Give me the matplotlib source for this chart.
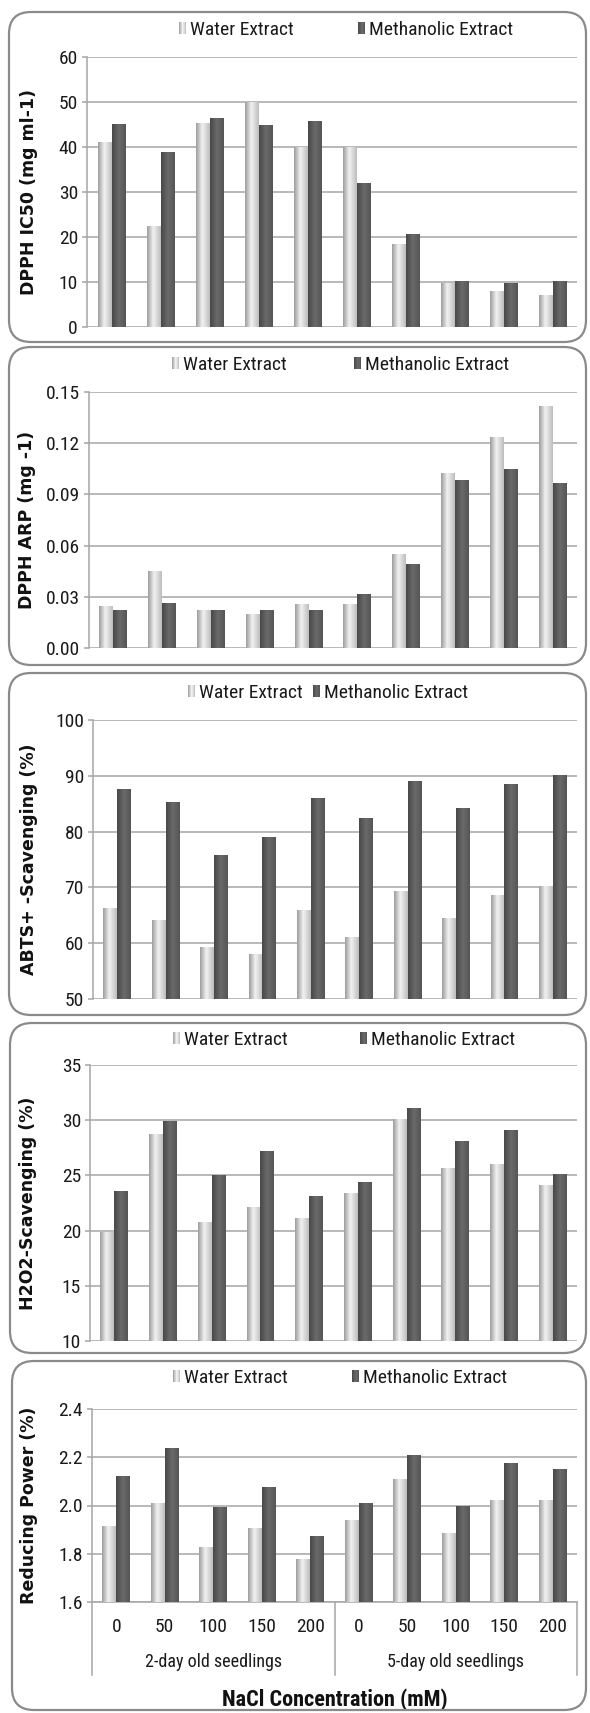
import numpy as np
import matplotlib
matplotlib.use("Agg")
import matplotlib.pyplot as plt
from matplotlib import font_manager
from matplotlib.font_manager import FontProperties
from matplotlib.patches import Rectangle, FancyBboxPatch
from matplotlib.legend_handler import HandlerBase
from matplotlib.colors import LinearSegmentedColormap

# ---------------- data ----------------
nacl_levels = ["0", "50", "100", "150", "200", "0", "50", "100", "150", "200"]
seedling_groups = ["2-day old seedlings", "5-day old seedlings"]
series_names = ["Water Extract", "Methanolic Extract"]

ic50_water = [41.0, 22.3, 45.3, 50.0, 39.9, 39.9, 18.3, 9.6, 8.0, 7.1]
ic50_meth = [45.1, 38.8, 46.3, 44.7, 45.7, 31.9, 20.5, 10.2, 9.6, 10.2]

arp_water = [0.0245, 0.045, 0.022, 0.0197, 0.0252, 0.0252, 0.055, 0.102, 0.1235, 0.1415]
arp_meth = [0.022, 0.026, 0.022, 0.022, 0.022, 0.0316, 0.049, 0.098, 0.1045, 0.0965]

abts_water = [66.2, 64.0, 59.3, 58.0, 65.8, 61.1, 69.2, 64.5, 68.6, 70.1]
abts_meth = [87.5, 85.2, 75.7, 79.0, 85.9, 82.3, 89.0, 84.1, 88.5, 90.0]

h2o2_water = [19.85, 28.7, 20.7, 22.1, 21.1, 23.4, 30.05, 25.6, 26.0, 24.1]
h2o2_meth = [23.5, 29.85, 25.0, 27.2, 23.1, 24.4, 31.1, 28.1, 29.1, 25.1]

rp_water = [1.911, 2.01, 1.827, 1.906, 1.777, 1.936, 2.107, 1.885, 2.022, 2.022]
rp_meth = [2.12, 2.235, 1.992, 2.076, 1.871, 2.01, 2.209, 1.997, 2.176, 2.151]

# ---------------- fonts ----------------
# prefer a narrow sans for the chart text
def _rank(name):
    for i, key in enumerate(("Liberation Sans Narrow", "Roboto Condensed",
                             "Open Sans Condensed", "Noto Sans", "Lato",
                             "Inter")):
        if key in name:
            return i
    return 50 if "DejaVu" in name else 20


def _find_narrow(bold):
    best = None
    for f in font_manager.fontManager.ttflist:
        narrow = ("Narrow" in f.name or "Condensed" in f.name
                  or str(f.stretch) in ("condensed", "semi-condensed",
                                        "extra-condensed"))
        if not narrow or f.style != "normal":
            continue
        wt = f.weight if isinstance(f.weight, int) else (
            700 if f.weight == "bold" else 400)
        if bold and wt < 600:
            continue
        if not bold and wt not in (400, "normal", "regular"):
            continue
        score = _rank(f.name)
        if best is None or score < best[0]:
            best = (score, f.fname, f.name)
    return best


_reg = _find_narrow(False)
_bold = _find_narrow(True)
_is_dejavu = (_reg is None) or ("DejaVu" in _reg[2])
BASE = 13.0 if _is_dejavu else 14.0


def font(size, bold=False):
    entry = _bold if bold else _reg
    if entry:
        return FontProperties(fname=entry[1], size=size)
    return FontProperties(family="Liberation Sans", size=size,
                          weight="bold" if bold else "normal")


W_PX, H_PX, DPI = 590, 1713, 100
fig = plt.figure(figsize=(W_PX / DPI, H_PX / DPI), dpi=DPI)
fig.patch.set_facecolor("white")

GRID = "#a6a6a6"
TXT = "#1a1a1a"
water_cmap = LinearSegmentedColormap.from_list(
    "water", [(0.0, "#9c9c9c"), (0.45, "#f2f2f2"), (1.0, "#bdbdbd")])
meth_cmap = LinearSegmentedColormap.from_list(
    "meth", [(0.0, "#484848"), (0.5, "#6a6a6a"), (1.0, "#555555")])
grad = np.linspace(0, 1, 64)


class GradientHandler(HandlerBase):
    def __init__(self, cmap):
        super().__init__()
        self.cmap = cmap

    def create_artists(self, legend, orig_handle, xdescent, ydescent,
                       width, height, fontsize, trans):
        n = 8
        arts = []
        for i in range(n):
            r = Rectangle((-xdescent + width * i / n, -ydescent), width / n + 0.05,
                          height, facecolor=self.cmap((i + 0.5) / n),
                          edgecolor="none", transform=trans)
            arts.append(r)
        return arts


def px_axes(left, top, right, bottom):
    return fig.add_axes([left / W_PX, 1 - bottom / H_PX,
                         (right - left) / W_PX, (bottom - top) / H_PX])


def panel_box(left, top, right, bottom):
    # rounded frame drawn in inches so corners stay circular
    box = FancyBboxPatch((left / DPI, (H_PX - bottom) / DPI),
                         (right - left) / DPI, (bottom - top) / DPI,
                         boxstyle="round,pad=0,rounding_size=0.22",
                         transform=fig.dpi_scale_trans, facecolor="none",
                         edgecolor="#8a8a8a", linewidth=1.6, zorder=0)
    fig.patches.append(box)


def add_legend(ax, idx, x_px, y_px, colspacing=0.5):
    handles = [Rectangle((0, 0), 1, 1) for _ in idx]
    cmaps = [water_cmap, meth_cmap]
    leg = ax.legend(handles, [series_names[i] for i in idx], ncol=len(idx),
                    frameon=False, loc="center left", prop=font(BASE),
                    bbox_to_anchor=(x_px / W_PX, 1 - y_px / H_PX),
                    bbox_transform=fig.transFigure,
                    handler_map={h: GradientHandler(cmaps[i])
                                 for h, i in zip(handles, idx)},
                    handlelength=0.38, handleheight=0.62, handletextpad=0.2,
                    columnspacing=colspacing, borderaxespad=0, borderpad=0)
    for t in leg.get_texts():
        t.set_color(TXT)
    return leg


def draw_panel(box, ax_px, water, meth, ylim, step, fmt, ylabel,
               legend_pos, ylabel_x):
    panel_box(*box)
    ax = px_axes(*ax_px)
    x = np.arange(len(water))
    w = 0.285
    bw = ax.bar(x - w / 2, water, w, color="#d0d0d0", zorder=2)
    bm = ax.bar(x + w / 2, meth, w, color="#5c5c5c", zorder=2)
    for bars, cmap in ((bw, water_cmap), (bm, meth_cmap)):
        for p in bars:
            x0, y0 = p.get_x(), p.get_y()
            ax.imshow(cmap(grad)[np.newaxis, :, :],
                      extent=[x0, x0 + p.get_width(), y0, y0 + p.get_height()],
                      aspect="auto", interpolation="bilinear", zorder=3)
    ax.set_xlim(-0.5, len(water) - 0.5)
    ax.set_ylim(*ylim)
    ticks = np.arange(ylim[0], ylim[1] + step / 2, step)
    ax.set_yticks(ticks)
    ax.set_yticklabels([fmt.format(t) for t in ticks],
                       fontproperties=font(BASE), color=TXT)
    ax.set_xticks([])
    ax.set_axisbelow(True)
    ax.grid(axis="y", color=GRID, linewidth=1.1)
    for s in ("top", "right", "bottom"):
        ax.spines[s].set_visible(False)
    ax.spines["left"].set_color(GRID)
    ax.spines["left"].set_linewidth(1.1)
    ax.tick_params(axis="y", length=3.5, width=1.1, color=GRID, pad=3)
    ax.set_ylabel(ylabel, fontsize=12.5, fontweight="bold",
                  family="DejaVu Sans", color="#111111")
    ax.yaxis.set_label_coords(ylabel_x, 0.5)
    legend_y, xs = legend_pos
    if len(xs) == 2:
        first = add_legend(ax, [0], xs[0], legend_y)
        ax.add_artist(first)
        add_legend(ax, [1], xs[1], legend_y)
    else:
        add_legend(ax, [0, 1], xs[0], legend_y, colspacing=0.5)
    return ax


draw_panel((9, 12, 586, 342), (87, 57, 577, 327), ic50_water, ic50_meth,
           (0, 60), 10, "{:.0f}", "DPPH IC50 (mg ml-1)", (30, (179, 358)), -0.10)
draw_panel((9, 347, 586, 665), (89, 392, 577, 648), arp_water, arp_meth,
           (0, 0.15), 0.03, "{:.2f}", "DPPH ARP (mg -1)", (365, (172, 354)),
           -0.109)
draw_panel((9, 673, 586, 1015), (93, 720, 577, 999), abts_water, abts_meth,
           (50, 100), 10, "{:.0f}", "ABTS+ -Scavenging (%)", (693, (188,)),
           -0.114)
draw_panel((10, 1023, 586, 1353), (90, 1065, 577, 1341), h2o2_water, h2o2_meth,
           (10, 35), 5, "{:.0f}", "H2O2-Scavenging (%)", (1040, (173, 360)),
           -0.109)
ax5 = draw_panel((12, 1361, 586, 1710), (92, 1409, 577, 1602), rp_water, rp_meth,
                 (1.6, 2.4), 0.2, "{:.1f}", "Reducing Power (%)",
                 (1378, (173, 352)), -0.111)

# multi-level category axis for the bottom panel
ax_h = 1602 - 1409
ax5.spines["bottom"].set_visible(True)
ax5.spines["bottom"].set_color(GRID)
ax5.spines["bottom"].set_linewidth(1.1)
xt = ax5.get_xaxis_transform()
for i, lab in enumerate(nacl_levels):
    ax5.text(i, -25 / ax_h, lab, transform=xt, ha="center", va="center",
             fontproperties=font(BASE), color=TXT)
for g, lab in enumerate(seedling_groups):
    ax5.text(g * 5 + 2, -60 / ax_h, lab, transform=xt, ha="center",
             va="center", fontproperties=font(BASE - 1.0), color=TXT)
for xb in (-0.5, 4.5, 9.5):
    ax5.plot([xb, xb], [0, -73 / ax_h], transform=xt, color=GRID,
             linewidth=1.1, clip_on=False)
ax5.text(0.5, -98 / ax_h, "NaCl Concentration (mM)", transform=ax5.transAxes,
         ha="center", va="center", fontproperties=font(16, bold=True),
         color="#111111")

fig.savefig("out.png", dpi=DPI)
